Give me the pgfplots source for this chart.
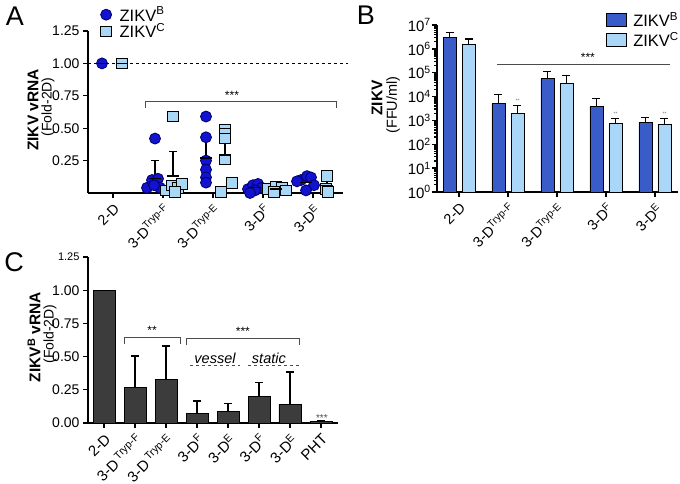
\documentclass[border=0pt]{standalone}
\usepackage{fontspec}
\setmainfont{Liberation Sans}
\usepackage{pgfplots}
\pgfplotsset{compat=1.18}
\definecolor{cdark}{HTML}{1212CF}
\definecolor{cdarkline}{HTML}{00006A}
\definecolor{clight}{HTML}{A8D8F5}
\definecolor{bdark}{HTML}{3A5CC8}
\definecolor{blight}{HTML}{AAD6F7}
\definecolor{cgray}{HTML}{3C3C3C}
\begin{document}
\begin{tikzpicture}
\path[use as bounding box] (0pt,0pt) rectangle (680pt,484pt);
\pgfplotsset{
  prism/.style={
    scale only axis,
    axis x line*=bottom, axis y line*=left,
    axis line style={line width=2pt,-},
    tick style={line width=1.3pt, black},
    tick align=outside,
    major tick length=5pt,
    minor tick length=3pt,
    ticklabel style={font=\fontsize{14}{15}\selectfont},
    clip=false,
  },
  ebar/.style={error bars/.cd, y dir=plus, y explicit,
    error bar style={line width=1.3pt, black},
    error mark options={rotate=90, mark size=4pt, line width=1.3pt, black}},
}
% ---------------- Panel A ----------------
\begin{axis}[prism,
  at={(88pt,291pt)}, anchor=south west,
  width=255pt, height=162pt,
  xmin=-0.5, xmax=4.6, ymin=0, ymax=1.25,
  ytick={0.25,0.5,0.75,1,1.25},
  yticklabels={0.25,0.50,0.75,1.00,1.25},
  xtick={0,1,2,3,4},
  xticklabels={2-D, 3-D\textsuperscript{Tryp-F}, 3-D\textsuperscript{Tryp-E}, 3-D\textsuperscript{F}, 3-D\textsuperscript{E}},
  xticklabel style={rotate=45, anchor=north east, font=\fontsize{14.5}{15}\selectfont},
  legend style={at={(axis description cs:0.037,1.175)}, anchor=north west, draw=none, fill=none,
    font=\fontsize{16.5}{17}\selectfont, row sep=-3pt, column sep=6pt},
  legend cell align=left,
]
\addplot[only marks, mark=*, mark size=5.5pt, mark options={fill=cdark, draw=cdarkline, line width=0.8pt}]
coordinates {
 (-0.22,1.00)
 (0.68,0.04) (0.78,0.10) (0.90,0.11) (0.94,0.04) (0.82,0.06) (0.84,0.42)
 (1.86,0.59) (1.86,0.43) (1.86,0.25) (1.86,0.18) (1.86,0.12) (1.86,0.08)
 (2.70,0.03) (2.80,0.06) (2.90,0.07) (2.98,0.04) (2.84,0.02) (2.74,0.00)
 (3.76,0.10) (3.88,0.13) (3.96,0.12) (4.02,0.06) (3.86,0.02) (3.68,0.09)
};
\addlegendentry{ZIKV\textsuperscript{B}}
\addplot[only marks, mark=square*, mark size=5.3pt, mark options={fill=clight, draw=black, line width=0.8pt}]
coordinates {
 (0.18,1.00)
 (1.20,0.59) (1.06,0.02) (1.18,0.06) (1.30,0.04) (1.38,0.07) (1.24,0.01)
 (2.24,0.49) (2.24,0.46) (2.24,0.42) (2.24,0.26) (2.38,0.08) (2.16,0.01)
 (3.10,0.03) (3.26,0.05) (3.38,0.04) (3.46,0.02) (3.22,0.01)
 (4.28,0.13) (4.26,0.03) (4.30,0.01)
};
\addlegendentry{ZIKV\textsuperscript{C}}
% mean + SD
\addplot[forget plot, only marks, mark=-, mark size=6pt, mark options={line width=1.3pt, black}, ebar]
coordinates {
 (-0.22,1.00) +- (0,0)
 (0.18,1.00) +- (0,0)
 (0.84,0.11) +- (0,0.14)
 (1.86,0.27) +- (0,0.19)
 (2.84,0.04) +- (0,0.03)
 (3.86,0.08) +- (0,0.05)
 (1.20,0.13) +- (0,0.19)
 (2.24,0.29) +- (0,0.19)
 (3.26,0.03) +- (0,0.02)
 (4.28,0.06) +- (0,0.05)
};
% dashed reference line
\addplot[forget plot, dashed, black, line width=0.7pt] coordinates {(-0.5,1) (4.7,1)};
% bracket
\addplot[forget plot, black!70, line width=1pt] coordinates {(0.64,0.655) (0.64,0.705) (4.46,0.705) (4.46,0.655)};
\node[font=\fontsize{12}{12}\selectfont] at (axis cs:2.38,0.755) {***};
\end{axis}
% ---------------- Panel B ----------------
\begin{axis}[prism,
  at={(437pt,292pt)}, anchor=south west,
  width=241pt, height=167pt,
  ymode=log, ymin=1, ymax=1e7, log origin=infty,
  xmin=-0.449, xmax=4.47,
  ytick={1,10,100,1000,10000,100000,1000000,10000000},
  yticklabels={10\textsuperscript{0},10\textsuperscript{1},10\textsuperscript{2},10\textsuperscript{3},10\textsuperscript{4},10\textsuperscript{5},10\textsuperscript{6},10\textsuperscript{7}},
  yticklabel style={font=\fontsize{15}{15}\selectfont, inner sep=1pt},
  xtick={0,1,2,3,4},
  xticklabels={2-D, 3-D\textsuperscript{Tryp-F}, 3-D\textsuperscript{Tryp-E}, 3-D\textsuperscript{F}, 3-D\textsuperscript{E}},
  xticklabel style={rotate=45, anchor=north east, font=\fontsize{14.5}{15}\selectfont},
  ybar, bar width=13pt,
  legend style={at={(axis description cs:0.69,1.1)}, anchor=north west, draw=none, fill=none,
    font=\fontsize{16.5}{17}\selectfont, row sep=0pt, column sep=5pt},
  legend cell align=left,
  legend image code/.code={\draw[#1, bar shift=0pt] (0pt,-6.5pt) rectangle (19pt,6.5pt);},
]
\addplot[fill=bdark, draw=black, line width=0.8pt, bar shift=-9.5pt, ebar]
coordinates {
 (0,2.9e6) +- (0,2.1e6)
 (1,5100) +- (0,6900)
 (2,5.6e4) +- (0,5.4e4)
 (3,3800) +- (0,4500)
 (4,830) +- (0,470)
};
\addlegendentry{ZIKV\textsuperscript{B}}
\addplot[fill=blight, draw=black, line width=0.8pt, bar shift=9.5pt, ebar]
coordinates {
 (0,1.5e6) +- (0,1.1e6)
 (1,1950) +- (0,2250)
 (2,3.5e4) +- (0,4e4)
 (3,750) +- (0,450)
 (4,680) +- (0,520)
};
\addlegendentry{ZIKV\textsuperscript{C}}
\end{axis}
\begin{axis}[
  at={(437pt,292pt)}, anchor=south west, scale only axis,
  width=241pt, height=167pt, hide axis, clip=false,
  ymode=log, ymin=1, ymax=1e7, xmin=-0.449, xmax=4.47,
]
\addplot[black!70, line width=1pt] coordinates {(0.78,2.3e5) (4.31,2.3e5)};
\node[font=\fontsize{12}{12}\selectfont] at (axis cs:2.63,4.3e5) {***};
\node[font=\fontsize{5}{5}\selectfont, black!60] at (axis cs:1.195,6800) {**};
\node[font=\fontsize{5}{5}\selectfont, black!60] at (axis cs:3.195,1900) {**};
\node[font=\fontsize{5}{5}\selectfont, black!60] at (axis cs:4.195,1900) {**};
\end{axis}
% ---------------- Panel C ----------------
\begin{axis}[prism,
  at={(88pt,61pt)}, anchor=south west,
  width=250pt, height=166pt,
  xmin=-0.52, xmax=7.55, ymin=0, ymax=1.25,
  ytick={0,0.25,0.5,0.75,1,1.25},
  yticklabels={0.00,0.25,0.50,0.75,1.00,{\fontsize{11}{11}\selectfont 1.25}},
  xtick={0,1,2,3,4,5,6,7},
  xticklabels={2-D, 3-D\,\textsuperscript{Tryp-F}, 3-D\,\textsuperscript{Tryp-E}, 3-D\textsuperscript{F}, 3-D\textsuperscript{E}, 3-D\textsuperscript{F}, 3-D\textsuperscript{E}, PHT},
  xticklabel style={rotate=45, anchor=north east, font=\fontsize{15}{15}\selectfont},
  ybar, bar width=22pt,
]
\addplot[fill=cgray, draw=black, line width=0.8pt, bar shift=0pt, ebar]
coordinates {
 (0,1.00) +- (0,0)
 (1,0.27) +- (0,0.235)
 (2,0.325) +- (0,0.255)
 (3,0.075) +- (0,0.09)
 (4,0.09) +- (0,0.055)
 (5,0.20) +- (0,0.105)
 (6,0.14) +- (0,0.245)
 (7,0.012) +- (0,0.004)
};
\end{axis}
\begin{axis}[
  at={(88pt,61pt)}, anchor=south west, scale only axis,
  width=250pt, height=166pt, hide axis, clip=false,
  xmin=-0.52, xmax=7.55, ymin=0, ymax=1.25,
]
\addplot[black!70, line width=1pt] coordinates {(0.65,0.595) (0.65,0.645) (2.45,0.645) (2.45,0.595)};
\node[font=\fontsize{12}{12}\selectfont] at (axis cs:1.55,0.70) {**};
\addplot[black!70, line width=1pt] coordinates {(2.65,0.585) (2.65,0.635) (6.32,0.635) (6.32,0.585)};
\node[font=\fontsize{12}{12}\selectfont] at (axis cs:4.48,0.69) {***};
\addplot[black!70, dashed, line width=0.8pt] coordinates {(2.77,0.43) (4.39,0.43)};
\addplot[black!70, dashed, line width=0.8pt] coordinates {(4.65,0.43) (6.32,0.43)};
\node[font=\fontsize{14.5}{15}\selectfont\itshape] at (axis cs:3.58,0.49) {vessel};
\node[font=\fontsize{14.5}{15}\selectfont\itshape] at (axis cs:5.32,0.49) {static};
\node[font=\fontsize{10}{10}\selectfont, black!70] at (axis cs:7.03,0.04) {***};
\end{axis}
% ---------------- Labels ----------------
\node[font=\fontsize{27}{28}\selectfont] at (15pt,468pt) {A};
\node[font=\fontsize{27}{28}\selectfont] at (366pt,469pt) {B};
\node[font=\fontsize{27}{28}\selectfont] at (14pt,222pt) {C};
\node[rotate=90, font=\fontsize{15.5}{16}\selectfont\bfseries] at (33pt,374pt) {ZIKV vRNA};
\node[rotate=90, font=\fontsize{14}{15}\selectfont] at (48pt,377pt) {(Fold-2D)};
\node[rotate=90, font=\fontsize{15.5}{16}\selectfont\bfseries] at (377pt,386pt) {ZIKV};
\node[rotate=90, font=\fontsize{14.5}{15}\selectfont] at (393pt,379pt) {(FFU/ml)};
\node[rotate=90, font=\fontsize{15.5}{16}\selectfont\bfseries] at (34pt,147pt) {ZIKV\textsuperscript{B} vRNA};
\node[rotate=90, font=\fontsize{14}{15}\selectfont] at (50pt,150pt) {(Fold-2D)};
\end{tikzpicture}
\end{document}
